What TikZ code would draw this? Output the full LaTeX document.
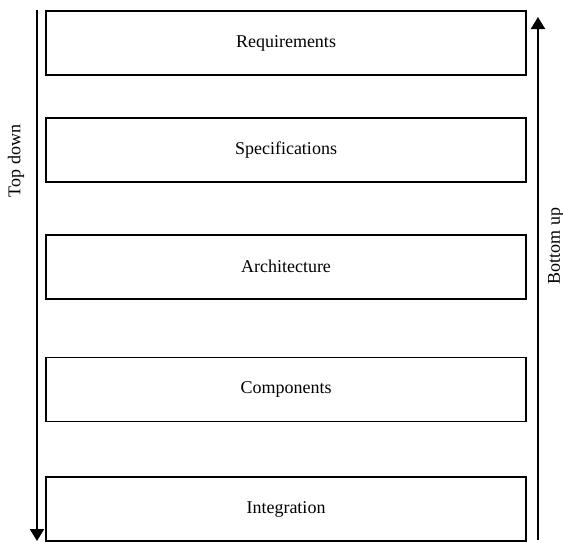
\documentclass[tikz,border=0pt]{standalone}
\usepackage{fontspec}
\setmainfont{Liberation Serif}
\usepackage{tikz}
\usetikzlibrary{positioning,arrows.meta}

\begin{document}
\begin{tikzpicture}[x=1pt, y=-1pt, every node/.style={font=\fontsize{18}{20}\selectfont},
				 stage/.style={draw, line width=1.8pt, minimum width=480pt, minimum height=64pt, inner sep=0pt},
				 flow/.style={line width=2pt, -{Triangle[width=14pt,length=12pt]}}]
		\useasboundingbox (0,0) rectangle (563,542);

		\node[stage] (req) at (286,43) {Requirements};
		\node[stage, below=41pt of req] (spec) {Specifications};
		\node[stage, below=51pt of spec] (arch) {Architecture};
		\node[stage, below=57pt of arch] (comp) {Components};
		\node[stage, below=54pt of comp] (integ) {Integration};

		\coordinate (tdtop) at (37,10);
		\coordinate (tdbot) at (37,541);
		\coordinate (bubot) at (538,540);
		\coordinate (butop) at (538,17);

		\draw[flow] (tdtop) -- (tdbot);
		\draw[flow] (bubot) -- (butop);

		\node[rotate=90] (topdown) at (16,161) {Top down};
		\node[rotate=90] (bottomup) at (556,246) {Bottom up};

\end{tikzpicture}
\end{document}
